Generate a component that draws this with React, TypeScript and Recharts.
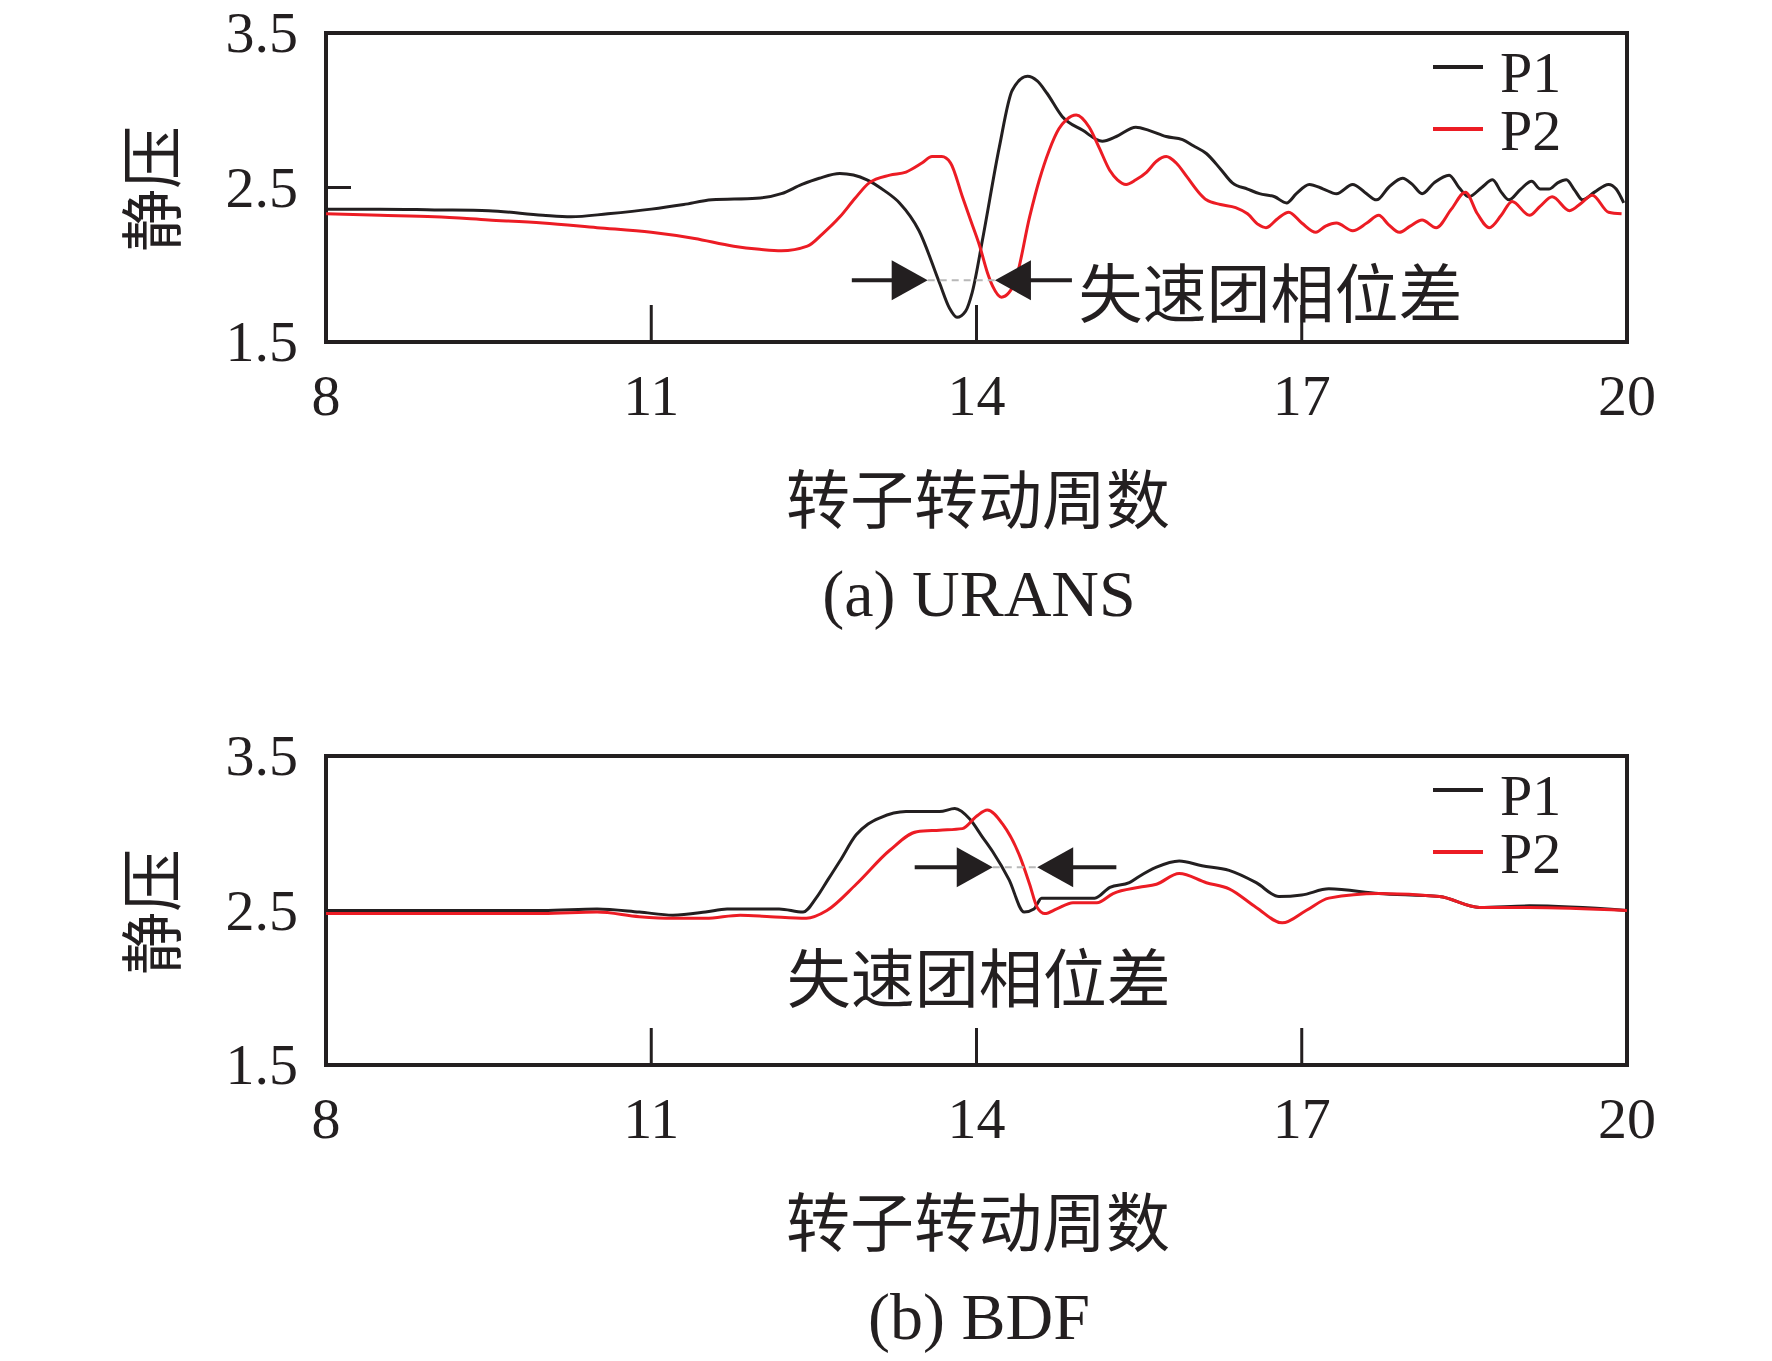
import React from "react";
import {
  LineChart,
  Line,
  XAxis,
  YAxis,
  Legend,
  ReferenceArea,
  ReferenceLine,
  ReferenceDot,
} from "recharts";

// values: [rotor revolution, static pressure]
const uransP1 = [
  [8.0, 2.36], [8.5, 2.36], [9.0, 2.355], [9.5, 2.35], [10.0, 2.32], [10.26, 2.31],
  [10.6, 2.33], [11.0, 2.36], [11.3, 2.39], [11.56, 2.42], [11.97, 2.43], [12.2, 2.46],
  [12.39, 2.52], [12.55, 2.56], [12.74, 2.59], [12.99, 2.55], [13.15, 2.48], [13.29, 2.4],
  [13.47, 2.22], [13.66, 1.88], [13.75, 1.72], [13.82, 1.66], [13.9, 1.7], [13.96, 1.82],
  [14.06, 2.18], [14.21, 2.76], [14.33, 3.13], [14.47, 3.22], [14.56, 3.19], [14.65, 3.11],
  [14.79, 2.96], [14.98, 2.87], [15.16, 2.8], [15.29, 2.83], [15.47, 2.89], [15.59, 2.87],
  [15.75, 2.83], [15.9, 2.81], [16.0, 2.77], [16.12, 2.72], [16.25, 2.62], [16.36, 2.53],
  [16.5, 2.49], [16.61, 2.46], [16.75, 2.44], [16.86, 2.4], [16.95, 2.46], [17.07, 2.52],
  [17.2, 2.49], [17.32, 2.46], [17.47, 2.52], [17.58, 2.47], [17.69, 2.42], [17.8, 2.5],
  [17.93, 2.56], [18.02, 2.52], [18.11, 2.46], [18.22, 2.53], [18.36, 2.58], [18.45, 2.5],
  [18.54, 2.44], [18.66, 2.5], [18.76, 2.55], [18.84, 2.47], [18.91, 2.42], [19.02, 2.49],
  [19.12, 2.54], [19.2, 2.49], [19.28, 2.49], [19.36, 2.53], [19.44, 2.55], [19.52, 2.48],
  [19.59, 2.42], [19.7, 2.47], [19.83, 2.52], [19.9, 2.49], [19.97, 2.4],
];

const uransP2 = [
  [8.0, 2.33], [8.5, 2.32], [9.0, 2.31], [9.5, 2.29], [10.0, 2.27], [10.5, 2.24],
  [11.0, 2.21], [11.4, 2.17], [11.76, 2.12], [12.0, 2.1], [12.2, 2.09], [12.44, 2.12],
  [12.58, 2.2], [12.74, 2.31], [12.88, 2.43], [13.01, 2.53], [13.2, 2.58], [13.35, 2.6],
  [13.5, 2.66], [13.59, 2.7], [13.68, 2.7], [13.76, 2.66], [13.87, 2.44], [13.95, 2.28],
  [14.03, 2.12], [14.1, 1.95], [14.15, 1.86], [14.23, 1.79], [14.3, 1.82], [14.36, 1.9],
  [14.49, 2.31], [14.58, 2.55], [14.67, 2.74], [14.76, 2.88], [14.83, 2.94], [14.92, 2.97],
  [15.04, 2.89], [15.13, 2.76], [15.23, 2.61], [15.3, 2.55], [15.38, 2.52], [15.47, 2.55],
  [15.57, 2.6], [15.66, 2.67], [15.75, 2.7], [15.84, 2.66], [15.94, 2.57], [16.06, 2.46],
  [16.12, 2.42], [16.25, 2.39], [16.39, 2.37], [16.5, 2.33], [16.6, 2.26], [16.67, 2.24],
  [16.78, 2.3], [16.88, 2.34], [17.0, 2.27], [17.13, 2.21], [17.22, 2.25], [17.32, 2.27],
  [17.47, 2.22], [17.6, 2.27], [17.71, 2.32], [17.8, 2.26], [17.9, 2.21], [18.0, 2.25],
  [18.11, 2.29], [18.24, 2.24], [18.38, 2.36], [18.51, 2.47], [18.62, 2.33], [18.73, 2.24],
  [18.84, 2.32], [18.94, 2.41], [19.1, 2.32], [19.2, 2.38], [19.31, 2.44], [19.47, 2.35],
  [19.58, 2.4], [19.68, 2.45], [19.83, 2.34], [19.95, 2.33],
];

const bdfP1 = [
  [8.0, 2.5], [9.0, 2.5], [10.0, 2.5], [10.5, 2.51], [10.89, 2.49], [11.2, 2.47],
  [11.5, 2.49], [11.7, 2.51], [12.0, 2.51], [12.18, 2.51], [12.4, 2.49], [12.52, 2.58],
  [12.63, 2.7], [12.74, 2.82], [12.89, 2.99], [13.0, 3.06], [13.11, 3.1], [13.35, 3.14],
  [13.66, 3.14], [13.8, 3.16], [13.94, 3.09], [14.05, 2.98], [14.15, 2.88], [14.3, 2.7],
  [14.44, 2.49], [14.53, 2.51], [14.6, 2.58], [14.89, 2.58], [15.09, 2.58], [15.23, 2.65],
  [15.41, 2.68], [15.5, 2.72], [15.66, 2.78], [15.87, 2.82], [16.08, 2.79], [16.33, 2.76],
  [16.58, 2.68], [16.79, 2.59], [17.0, 2.6], [17.25, 2.64], [17.71, 2.61], [18.27, 2.59],
  [18.64, 2.52], [19.1, 2.53], [20.0, 2.5],
];

const bdfP2 = [
  [8.0, 2.48], [9.0, 2.48], [10.0, 2.48], [10.5, 2.49], [10.89, 2.46], [11.2, 2.45],
  [11.5, 2.45], [11.82, 2.47], [12.1, 2.46], [12.43, 2.45], [12.62, 2.5], [12.89, 2.67],
  [13.2, 2.89], [13.45, 3.01], [13.66, 3.02], [13.87, 3.03], [14.0, 3.11], [14.1, 3.15],
  [14.24, 3.06], [14.4, 2.85], [14.49, 2.67], [14.56, 2.52], [14.63, 2.48], [14.74, 2.51],
  [14.89, 2.55], [15.11, 2.55], [15.26, 2.61], [15.5, 2.65], [15.66, 2.67], [15.87, 2.74],
  [16.12, 2.68], [16.33, 2.64], [16.58, 2.52], [16.82, 2.42], [17.04, 2.5], [17.25, 2.58],
  [17.71, 2.61], [18.27, 2.59], [18.64, 2.52], [19.1, 2.52], [20.0, 2.5],
];

const xTicks = [8, 11, 14, 17, 20];
const yTicks = [1.5, 2.5, 3.5];

// phase-difference arrows: [shaft start, right tip, left tip, shaft end, y], text [x, y]
const uransArrows = [12.85, 13.55, 14.17, 14.88, 1.9];
const uransNote = [14.94, 1.84];
const bdfArrows = [13.43, 14.15, 14.56, 15.29, 2.78];
const bdfNote = [12.25, 2.09];

const INK = "#231f20";
const RED = "#ec1c24";
const SERIF = '"Liberation Serif", "Times New Roman", serif';
const CJK = '"Noto Sans CJK SC", "Noto Sans CJK JP", sans-serif';

const toPts = (rows: number[][]) => rows.map(([t, v]) => ({ t, v }));

const XTick = (props: any) => {
  const { x, y, payload } = props;
  return (
    <g>
      <line x1={x} y1={y} x2={x} y2={y - 37} stroke={INK} strokeWidth={3} />
      <text x={x} y={y + 73} textAnchor="middle" fontSize={58} fontFamily={SERIF} fill={INK}>
        {payload.value}
      </text>
    </g>
  );
};

const YTick = (props: any) => {
  const { x, y, payload } = props;
  return (
    <g>
      <line x1={x} y1={y} x2={x + 25} y2={y} stroke={INK} strokeWidth={3} />
      <text x={x - 28} y={y + 19} textAnchor="end" fontSize={58} fontFamily={SERIF} fill={INK}>
        {Number(payload.value).toFixed(1)}
      </text>
    </g>
  );
};

const LegendBox = (props: any) => {
  const items = props.payload || [];
  return (
    <svg width={220} height={160}>
      {items.map((e: any, i: number) => (
        <g key={e.value}>
          <line x1={0} x2={50} y1={37 + i * 62} y2={37 + i * 62} stroke={e.color} strokeWidth={4} />
          <text x={67} y={62 + i * 58} fontSize={58} fontFamily={SERIF} fill={INK}>
            {e.value}
          </text>
        </g>
      ))}
    </svg>
  );
};

const headRight = (p: any) => (
  <polygon
    points={`${p.cx},${p.cy} ${p.cx - 36},${p.cy - 20} ${p.cx - 36},${p.cy + 20}`}
    fill={INK}
  />
);
const headLeft = (p: any) => (
  <polygon
    points={`${p.cx},${p.cy} ${p.cx + 36},${p.cy - 20} ${p.cx + 36},${p.cy + 20}`}
    fill={INK}
  />
);
const noteText = (p: any) => (
  <text x={p.cx} y={p.cy} dominantBaseline="central" fontSize={64} fontFamily={CJK} fill={INK}>
    失速团相位差
  </text>
);

interface PanelProps {
  top: number;
  p1: number[][];
  p2: number[][];
  arrows: number[];
  note: number[];
  caption: string;
}

const Panel: React.FC<PanelProps> = ({ top, p1, p2, arrows, note, caption }) => {
  const [a0, a1, a2, a3, ay] = arrows;
  const label: React.CSSProperties = {
    position: "absolute",
    whiteSpace: "nowrap",
    lineHeight: 1,
    color: INK,
    transform: "translate(-50%, -50%)",
  };
  return (
    <div style={{ position: "absolute", left: 0, top, width: 1772, height: 660 }}>
      <LineChart width={1772} height={460} margin={{ top: 33, right: 145, bottom: 0, left: 0 }}>
        <XAxis
          type="number"
          dataKey="t"
          domain={[8, 20]}
          ticks={xTicks}
          height={118}
          axisLine={false}
          tickLine={false}
          tickSize={0}
          tickMargin={0}
          tick={<XTick />}
          allowDataOverflow
        />
        <YAxis
          type="number"
          dataKey="v"
          domain={[1.5, 3.5]}
          ticks={yTicks}
          width={326}
          axisLine={false}
          tickLine={false}
          tickSize={0}
          tickMargin={0}
          tick={<YTick />}
          allowDataOverflow
        />
        <ReferenceArea x1={8} x2={20} y1={1.5} y2={3.5} fill="none" stroke={INK} strokeWidth={4} />
        <Line
          data={toPts(p1)}
          dataKey="v"
          name="P1"
          type="monotone"
          stroke={INK}
          strokeWidth={3}
          dot={false}
          isAnimationActive={false}
        />
        <Line
          data={toPts(p2)}
          dataKey="v"
          name="P2"
          type="monotone"
          stroke={RED}
          strokeWidth={3}
          dot={false}
          isAnimationActive={false}
        />
        <ReferenceLine
          segment={[{ x: a1, y: ay }, { x: a2, y: ay }]}
          stroke="#b8b8b8"
          strokeWidth={2}
          strokeDasharray="7 5"
        />
        <ReferenceLine segment={[{ x: a0, y: ay }, { x: a1 - 0.2, y: ay }]} stroke={INK} strokeWidth={4} />
        <ReferenceLine segment={[{ x: a2 + 0.2, y: ay }, { x: a3, y: ay }]} stroke={INK} strokeWidth={4} />
        <ReferenceDot x={a1} y={ay} r={0} shape={headRight} />
        <ReferenceDot x={a2} y={ay} r={0} shape={headLeft} />
        <ReferenceDot x={note[0]} y={note[1]} r={0} shape={noteText} />
        <Legend
          layout="horizontal"
          verticalAlign="middle"
          align="center"
          content={<LegendBox />}
          wrapperStyle={{ left: 1433, top: 30, width: 220, height: 160 }}
        />
      </LineChart>
      <div style={{ ...label, left: 147, top: 189, fontSize: 63, fontFamily: CJK, transform: "translate(-50%, -50%) rotate(-90deg)" }}>
        静压
      </div>
      <div style={{ ...label, left: 978, top: 495, fontSize: 64, fontFamily: CJK }}>转子转动周数</div>
      <div style={{ ...label, left: 979, top: 594, fontSize: 66, fontFamily: SERIF }}>{caption}</div>
    </div>
  );
};

const App: React.FC = () => {
  return (
    <div style={{ position: "absolute", left: 0, top: 0, width: 1772, height: 1361, background: "#fff" }}>
      <Panel top={0} p1={uransP1} p2={uransP2} arrows={uransArrows} note={uransNote} caption="(a) URANS" />
      <Panel top={723} p1={bdfP1} p2={bdfP2} arrows={bdfArrows} note={bdfNote} caption="(b) BDF" />
    </div>
  );
};

export default App;
